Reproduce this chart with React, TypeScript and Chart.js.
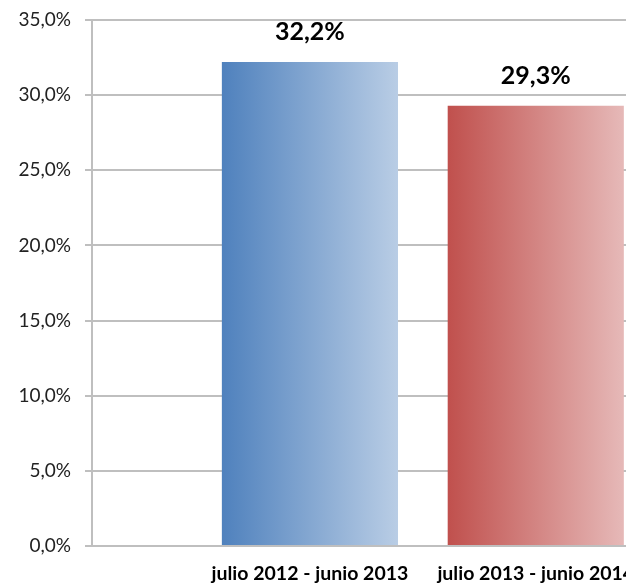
import React, { useEffect, useRef } from "react";
import { Chart, registerables } from "chart.js";

Chart.register(...registerables);

const categories = ["julio 2012 - junio 2013", "julio 2013 - junio 2014"];
const values = [32.2, 29.3];
const leftColors = ["#4F81BD", "#C0504D"];
const rightColors = ["#B9CDE5", "#E6B9B8"];
const yMax = 35;
const yStep = 5;

const X_MIN = 0.035;
const X_MAX = 3.17;
const BAR_PCT = 0.78;
const FONT = "Lato, 'Open Sans', sans-serif";

const fmt = (v: number) => v.toFixed(1).replace(".", ",") + "%";

const labelPlugin = {
  id: "barLabels",
  afterDatasetsDraw(chart: any) {
    const ctx = chart.ctx;
    const meta = chart.getDatasetMeta(0);
    ctx.save();
    ctx.font = `bold 25px ${FONT}`;
    ctx.fillStyle = "#000";
    ctx.textAlign = "center";
    ctx.textBaseline = "middle";
    meta.data.forEach((el: any, i: number) => {
      ctx.fillText(fmt(values[i]), el.x, el.y - 30);
    });
    ctx.restore();
  },
};

export default function App() {
  const ref = useRef<HTMLCanvasElement>(null);
  useEffect(() => {
    if (!ref.current) return;
    const chart = new Chart(ref.current, {
      type: "bar",
      data: {
        datasets: [
          {
            data: values.map((v, i) => ({ x: i + 1, y: v })),
            backgroundColor: (c: any) => {
              const ch = c.chart;
              const i = c.dataIndex ?? 0;
              if (!ch.chartArea || !ch.scales.x) return leftColors[i];
              const xs = ch.scales.x;
              const cx = xs.getPixelForValue(i + 1);
              const half = ((xs.getPixelForValue(2) - xs.getPixelForValue(1)) * BAR_PCT) / 2;
              const g = ch.ctx.createLinearGradient(cx - half, 0, cx + half, 0);
              g.addColorStop(0, leftColors[i]);
              g.addColorStop(1, rightColors[i]);
              return g;
            },
            borderWidth: 0,
            barPercentage: BAR_PCT,
            categoryPercentage: 1,
          },
        ],
      },
      options: {
        animation: false,
        responsive: false,
        devicePixelRatio: 1,
        layout: { padding: { top: 20, left: 0, right: 0, bottom: 0 } },
        plugins: { legend: { display: false }, tooltip: { enabled: false } },
        scales: {
          x: {
            type: "linear",
            min: X_MIN,
            max: X_MAX,
            offset: false,
            grid: { display: false, drawTicks: false, offset: false },
            border: { display: false },
            afterBuildTicks: (s: any) => {
              s.ticks = categories.map((_, i) => ({ value: i + 1 }));
            },
            afterFit: (s: any) => {
              s.height = 37;
              s.paddingLeft = 0;
              s.paddingRight = 0;
            },
            ticks: {
              autoSkip: false,
              maxRotation: 0,
              padding: 16,
              color: "#000",
              font: { family: FONT, size: 19.5, weight: "bold" },
              callback: (v: any) => categories[Math.round(v) - 1] ?? "",
            },
          },
          y: {
            min: 0,
            max: yMax,
            grid: { color: "#BFBFBF", lineWidth: 2, tickLength: 7, drawTicks: true },
            border: { display: true, color: "#BFBFBF", width: 2 },
            afterFit: (s: any) => {
              s.width = 92;
              s.paddingTop = 0;
              s.paddingBottom = 0;
            },
            ticks: {
              stepSize: yStep,
              padding: 14,
              color: "#222",
              font: { family: FONT, size: 19 },
              callback: (v: any) => fmt(Number(v)),
            },
          },
        },
      },
      plugins: [labelPlugin],
    });
    return () => chart.destroy();
  }, []);
  return (
    <div
      style={{
        position: "fixed",
        left: 0,
        top: 0,
        width: 626,
        height: 583,
        overflow: "hidden",
        background: "#fff",
      }}
    >
      <canvas ref={ref} width={800} height={583} style={{ display: "block" }} />
    </div>
  );
}
